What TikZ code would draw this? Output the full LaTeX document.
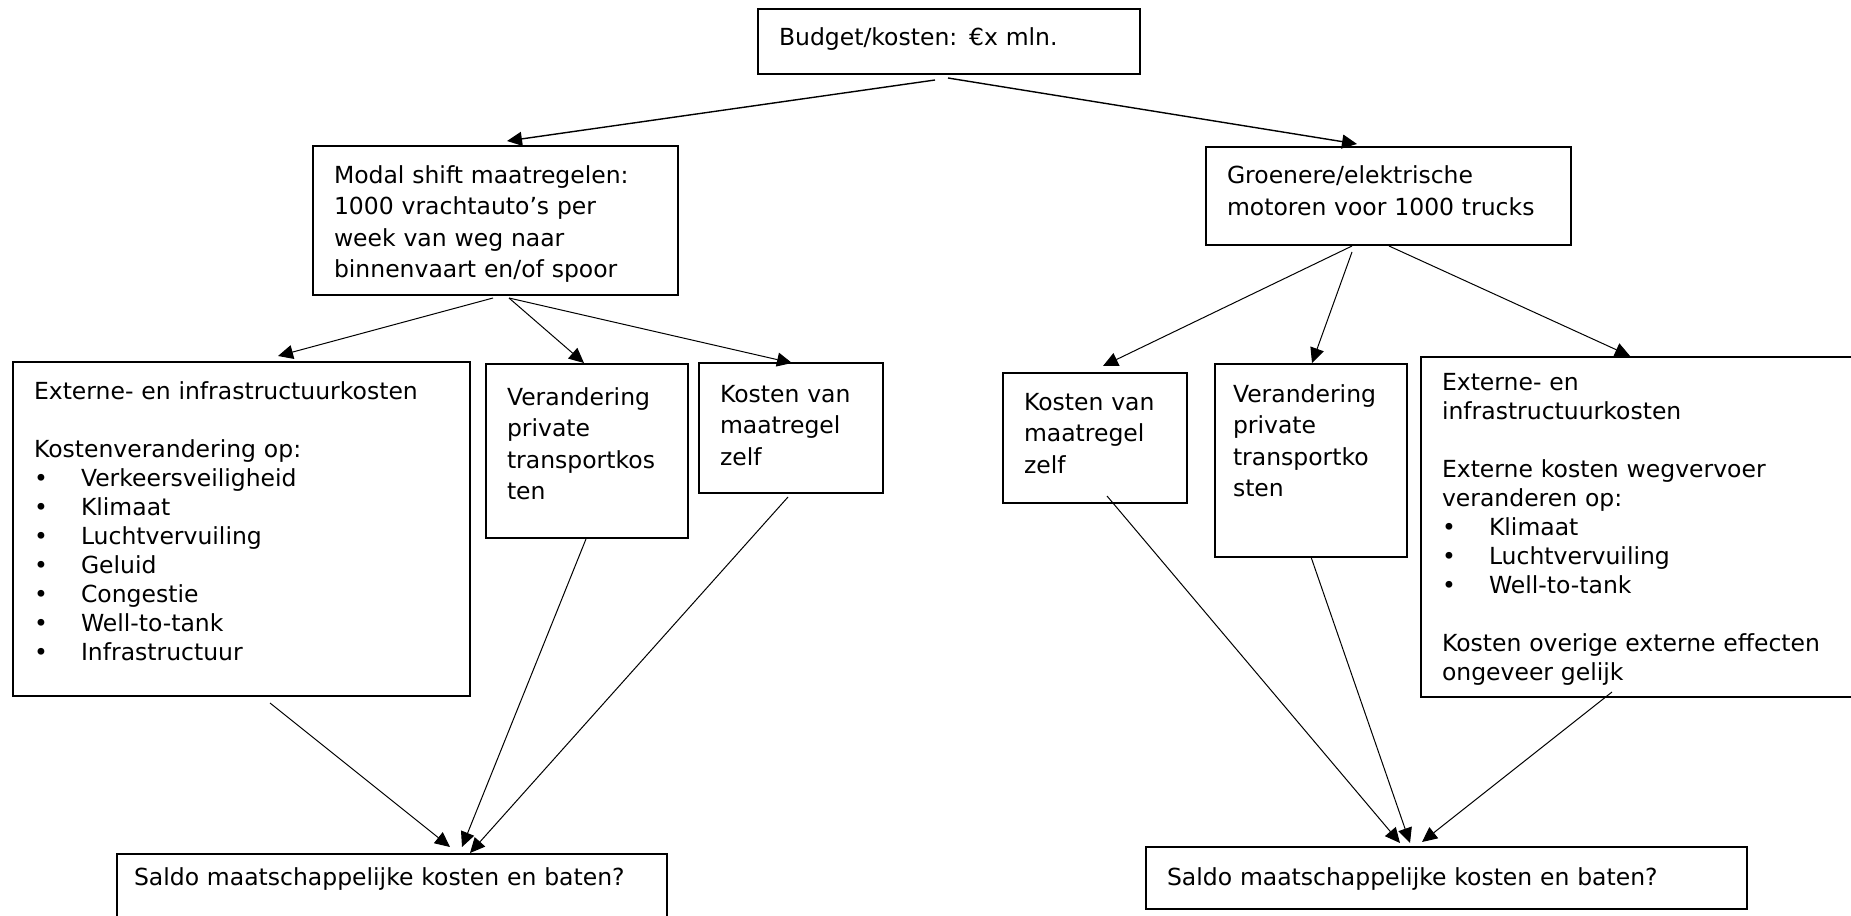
\documentclass[tikz,border=0pt]{standalone}
\usepackage{fontspec}
\setmainfont{DejaVu Sans}
\usetikzlibrary{arrows.meta}
\newcommand{\bolletje}{\makebox[23.5pt][l]{\textbullet}}

\begin{document}
\begin{tikzpicture}[
    x=0.5pt, y=-0.5pt,
    mybox/.style={
    draw=black,
    line width=1pt,
    anchor=north west,
    outer sep=0pt,
    inner xsep=10.5pt,
    inner ysep=0pt,
    text height=18.5pt,
    align=left,
    font=\fontsize{11.75}{15.8}\selectfont},
    mylist/.style={font=\fontsize{11.75}{14.5}\selectfont},
    myarrow/.style={-{Triangle[length=7.5pt,width=7pt]},line width=0.5pt}
    ]
    \useasboundingbox (0,0) rectangle (1851,915);

    \node[mybox, minimum width=191pt, text width=170pt, text depth=14pt] (budget) at (758,9) {Budget/kosten: €x mln.};
    \node[mybox, minimum width=182.5pt, text width=161.5pt, text depth=56pt] (modal) at (313,146) {Modal shift maatregelen:\\1000 vrachtauto’s per\\week van weg naar\\binnenvaart en/of spoor};
    \node[mybox, minimum width=182.5pt, text width=161.5pt, text depth=30.5pt] (groen) at (1206,147) {Groenere/elektrische\\motoren voor 1000 trucks};

    \node[mybox, mylist, minimum width=228.5pt, text width=207.5pt, text depth=148.5pt] (extL) at (13,362) {Externe- en infrastructuurkosten\\[14.5pt]
        Kostenverandering op:\\
        \bolletje Verkeersveiligheid\\
        \bolletje Klimaat\\
        \bolletje Luchtvervuiling\\
        \bolletje Geluid\\
        \bolletje Congestie\\
        \bolletje Well-to-tank\\
        \bolletje Infrastructuur};
    \node[mybox, minimum width=101pt, text width=80pt, text height=20.5pt, text depth=66.5pt] (verL) at (486,364) {Verandering\\private\\transportkos\\ten};
    \node[mybox, minimum width=92pt, text width=71pt, text height=19.5pt, text depth=45.5pt] (kostL) at (699,363) {Kosten van\\maatregel\\zelf};

    \node[mybox, minimum width=92pt, text width=71pt, text depth=46.5pt] (kostR) at (1003,373) {Kosten van\\maatregel\\zelf};
    \node[mybox, minimum width=96pt, inner xsep=9pt, text width=78pt, text height=19pt, text depth=77.5pt] (verR) at (1215,364) {Verandering\\private\\transportko\\sten};
    \node[mybox, mylist, minimum width=230pt, text width=209pt, text height=16.5pt, text depth=153.5pt] (extR) at (1421,357) {Externe- en\\
        infrastructuurkosten\\[14.5pt]
        Externe kosten wegvervoer\\
        veranderen op:\\
        \bolletje Klimaat\\
        \bolletje Luchtvervuiling\\
        \bolletje Well-to-tank\\[14.5pt]
        Kosten overige externe effecten\\
        ongeveer gelijk};

    \node[mybox, minimum width=275pt, inner xsep=8.5pt, text width=258pt, text height=15.5pt, text depth=24.5pt] (saldoL) at (117,854) {Saldo maatschappelijke kosten en baten?};
    \node[mybox, minimum width=300.5pt, text width=279.5pt, text height=19pt, text depth=12pt] (saldoR) at (1146,847) {Saldo maatschappelijke kosten en baten?};

    \draw[myarrow, line width=0.7pt] ([shift={(177,6)}]budget.south west) -- ([shift={(194,-5)}]modal.north west);
    \draw[myarrow, line width=0.7pt] ([shift={(190,4)}]budget.south west) -- ([shift={(151,-3)}]groen.north west);

    \draw[myarrow] ([shift={(180,3)}]modal.south west) -- ([shift={(265,-6)}]extL.north west);
    \draw[myarrow] ([shift={(196,3)}]modal.south west) -- ([shift={(98,-1)}]verL.north west);
    \draw[myarrow] ([shift={(196,3)}]modal.south west) -- ([shift={(93,0)}]kostL.north west);

    \draw[myarrow] ([shift={(146,1)}]groen.south west) -- ([shift={(100,-7)}]kostR.north west);
    \draw[myarrow] ([shift={(146,7)}]groen.south west) -- ([shift={(97,-1)}]verR.north west);
    \draw[myarrow] ([shift={(183,1)}]groen.south west) -- ([shift={(209,-1)}]extR.north west);

    \draw[myarrow] ([shift={(257,7)}]extL.south west) -- ([shift={(333,-7)}]saldoL.north west);
    \draw[myarrow] ([shift={(100,1)}]verL.south west) -- ([shift={(345,-7)}]saldoL.north west);
    \draw[myarrow] ([shift={(89,4)}]kostL.south west) -- ([shift={(353,-1)}]saldoL.north west);

    \draw[myarrow] ([shift={(104,-7)}]kostR.south west) -- ([shift={(254,-4)}]saldoR.north west);
    \draw[myarrow] ([shift={(96,0)}]verR.south west) -- ([shift={(264,-4)}]saldoR.north west);
    \draw[myarrow] ([shift={(191,-5)}]extR.south west) -- ([shift={(276,-5)}]saldoR.north west);
\end{tikzpicture}
\end{document}
